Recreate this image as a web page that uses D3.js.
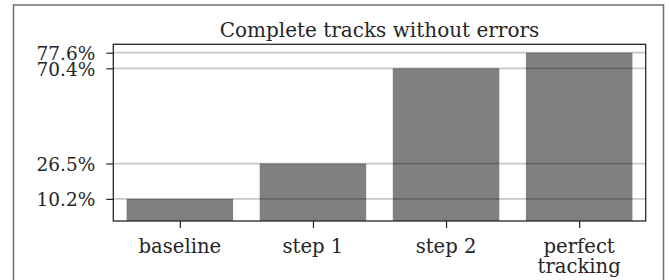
<!DOCTYPE html>
<html><head><meta charset="utf-8">
<script src="https://cdn.jsdelivr.net/npm/d3@7"></script>
<style>body{margin:0;background:#fff}svg{display:block}text{font-family:"DejaVu Serif",serif;fill:#262626}</style>
</head><body>
<svg id="c" width="669" height="280"></svg>
<script>
const categories = ["baseline", "step 1", "step 2", "perfect\ntracking"];
const values = [10.2, 26.5, 70.4, 77.6];
const tickLabels = ["10.2%", "26.5%", "70.4%", "77.6%"];
const title = "Complete tracks without errors";

const svg = d3.select("#c");
const L = 113.3, R = 645.7, T = 44.3, B = 221;
const x = d3.scaleLinear().domain([-0.5, categories.length - 0.5]).range([L, R]);
const y = d3.scaleLinear().domain([0, d3.max(values) * 1.05]).range([B, T]);
const bw = x(0.8) - x(0);

// outer frame
svg.append("rect").attr("x", 13.5).attr("y", 5).attr("width", 650).attr("height", 290)
  .attr("fill", "none").attr("stroke", "#6e6e6e").attr("stroke-width", 1.5);

// bars
svg.append("g").selectAll("rect").data(values).join("rect")
  .attr("x", (d, i) => x(i) - bw / 2).attr("width", bw)
  .attr("y", d => y(d)).attr("height", d => y(0) - y(d))
  .attr("fill", "#808080");

// grid lines over bars
svg.append("g").selectAll("line").data(values).join("line")
  .attr("x1", L).attr("x2", R).attr("y1", d => y(d)).attr("y2", d => y(d))
  .attr("stroke", "#000").attr("stroke-opacity", 0.22).attr("stroke-width", 1.7);

// y axis
const yAxis = d3.axisLeft(y).tickValues(values).tickFormat((d, i) => tickLabels[i]).tickSize(7).tickPadding(11);
const gy = svg.append("g").attr("transform", `translate(${L},0)`).call(yAxis);
gy.select(".domain").remove();
gy.selectAll(".tick line").attr("stroke", "#262626").attr("stroke-width", 1.2);
gy.selectAll(".tick text").attr("x", -18).attr("font-size", 18.5).attr("font-family", "DejaVu Serif").attr("fill", "#262626").attr("dy", "0.36em");

// x axis
const xAxis = d3.axisBottom(x).tickValues(d3.range(categories.length)).tickFormat("").tickSize(7);
const gx = svg.append("g").attr("transform", `translate(0,${B})`).call(xAxis);
gx.select(".domain").remove();
gx.selectAll(".tick line").attr("stroke", "#262626").attr("stroke-width", 1.2);
categories.forEach((c, i) => {
  const t = svg.append("text").attr("x", x(i)).attr("y", 253).attr("text-anchor", "middle").attr("font-size", 19.6);
  c.split("\n").forEach((s, j) => t.append("tspan").attr("x", x(i)).attr("dy", j ? 19.5 : 0).text(s));
});

// spines
svg.append("rect").attr("x", L).attr("y", T).attr("width", R - L).attr("height", B - T)
  .attr("fill", "none").attr("stroke", "#262626").attr("stroke-width", 1.3);

// title
svg.append("text").attr("x", (L + R) / 2).attr("y", 37).attr("text-anchor", "middle").attr("font-size", 20).text(title);
</script>
</body></html>
